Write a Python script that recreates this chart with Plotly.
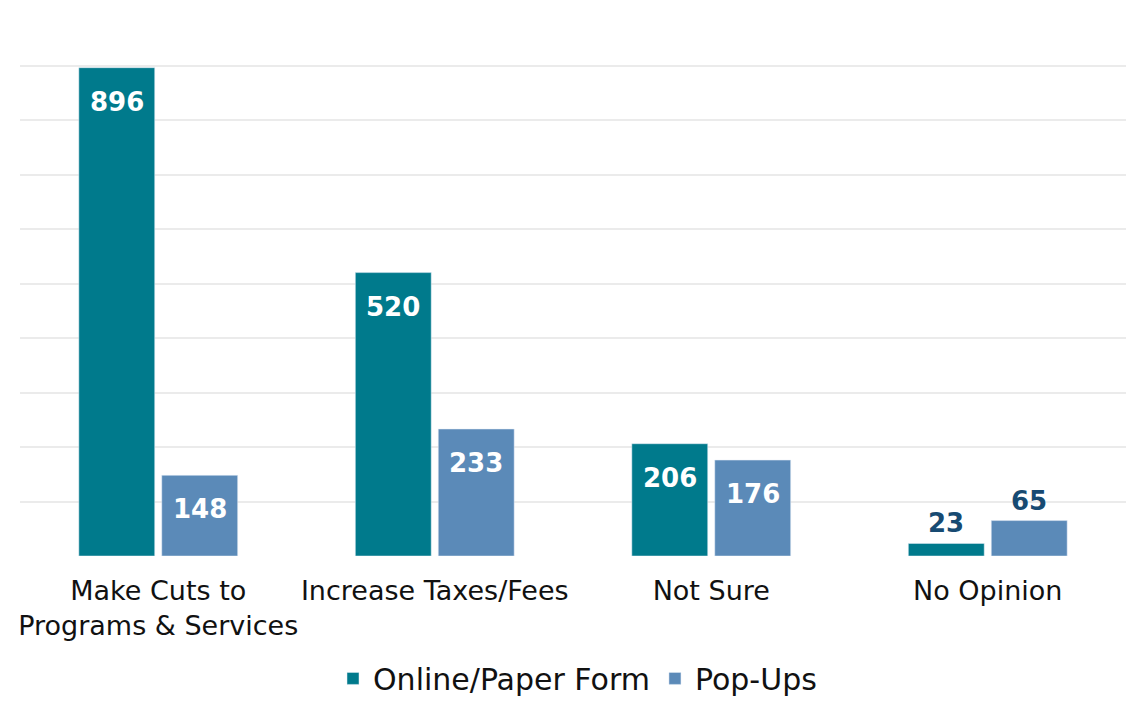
import plotly.graph_objects as go

categories = ["Make Cuts to<br>Programs & Services", "Increase Taxes/Fees", "Not Sure", "No Opinion"]
online_paper = [896, 520, 206, 23]
pop_ups = [148, 233, 176, 65]

TEAL = "#007A8C"
BLUE = "#5B8AB8"
NAVY = "#174A72"
FONT = "'DejaVu Sans', sans-serif"

W, H = 1139, 702
# the page body has an 8px margin, so shift the plot margins to compensate
M = dict(l=12, r=21, t=3, b=154)
BARGAP, GROUPGAP = 0.4, 0.085

fig = go.Figure()
series = [("Online/Paper Form", online_paper, TEAL), ("Pop-Ups", pop_ups, BLUE)]
for name, vals, color in series:
    fig.add_trace(go.Bar(x=categories, y=vals, name=name, marker=dict(color=color)))

# value labels: inside near the top for big bars, above the bar for small ones
cat_px = (W - M["l"] - M["r"]) / len(categories)
slot = cat_px * (1 - BARGAP) / len(series)
for i, (name, vals, color) in enumerate(series):
    shift = (i - (len(series) - 1) / 2) * slot
    for cat, v in zip(categories, vals):
        big = v >= 100
        fig.add_annotation(
            x=cat, y=v, xref="x", yref="y", text=str(v), showarrow=False,
            xshift=shift, yshift=-34 if big else 20, yanchor="middle",
            font=dict(size=26, family=FONT, color="white" if big else NAVY, weight="bold"),
        )

fig.update_layout(
    width=W, height=H,
    margin=M,
    plot_bgcolor="white", paper_bgcolor="white",
    barmode="group", bargap=BARGAP, bargroupgap=GROUPGAP,
    font=dict(family=FONT, color="#111111"),
    legend=dict(orientation="h", x=0.5, xanchor="center", xref="container",
                y=0.045, yanchor="middle", yref="container",
                font=dict(size=30, color="#111111"), traceorder="normal"),
)
fig.update_yaxes(range=[0, 1000], dtick=100, showticklabels=False,
                 gridcolor="#EBEBEB", gridwidth=1.5, zeroline=False, automargin=False)
fig.update_xaxes(tickfont=dict(size=27, color="#111111"), showline=False, ticks="",
                 ticklabelstandoff=16, automargin=False)

fig.write_html("out.html")
